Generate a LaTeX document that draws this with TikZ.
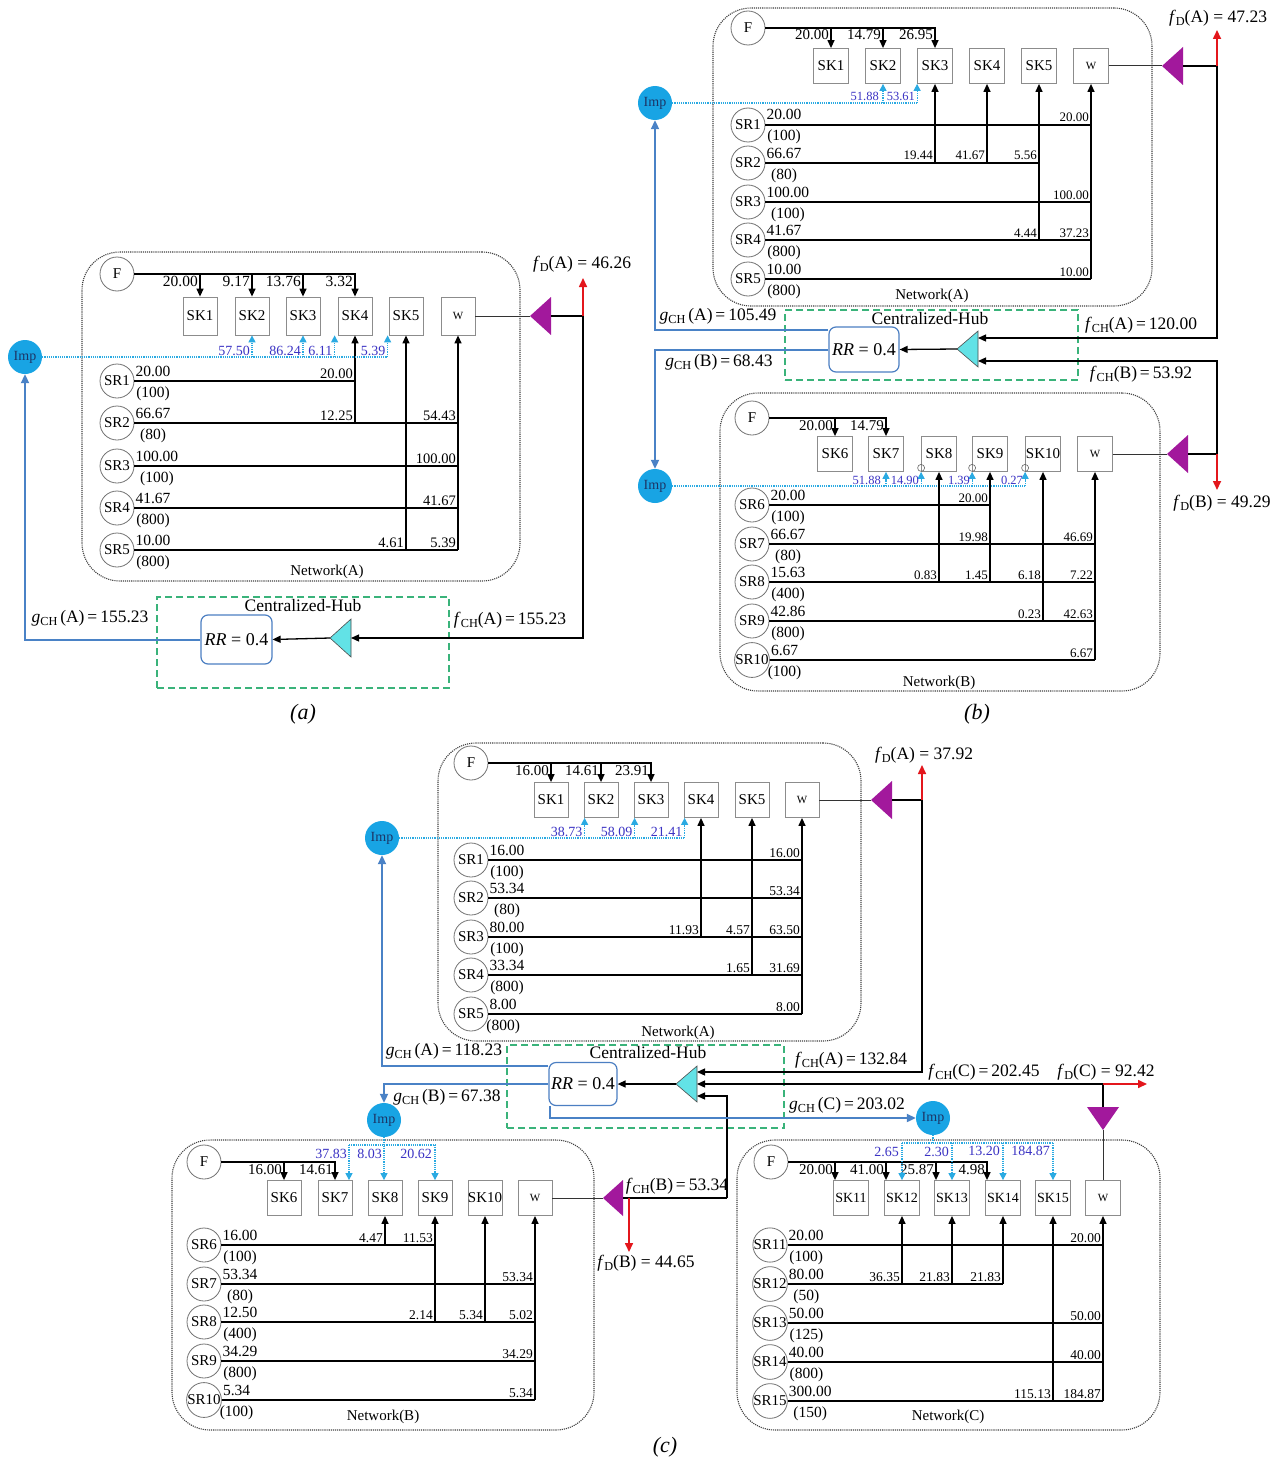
\documentclass[tikz,border=0pt]{standalone}
\usepackage{fontspec}
\usepackage{graphicx}
\setmainfont{Liberation Serif}
\usetikzlibrary{calc,arrows.meta}
\definecolor{impc}{HTML}{18A4E4}
\definecolor{impt}{HTML}{1C3566}
\definecolor{cyanc}{HTML}{2AAAE2}
\definecolor{labc}{HTML}{3B33C4}
\definecolor{bluec}{HTML}{4A82C6}
\definecolor{redc}{HTML}{E3161C}
\definecolor{greenc}{HTML}{3AB37A}
\definecolor{purpc}{HTML}{A2189C}
\definecolor{tric}{HTML}{62E2E6}
\definecolor{rrc}{HTML}{4C7FC2}
\newcommand\fs[1]{\fontsize{#1}{#1}\selectfont}
\newcommand\Sb[1]{\raisebox{-0.35ex}{\scalebox{0.7}{#1}}}
\newcommand\eqfD[2]{\textit{f}\Sb{D}(#1) = #2}
\newcommand\eqfCH[2]{\textit{f}\Sb{CH}(#1)\,=\,#2}
\newcommand\eqgCH[2]{\textit{g}\Sb{CH}\,(#1)\,=\,#2}
\newcommand\SRnode[6]{%
  \node[srn] (#1) at (#2,#3) {#4};
  \node[lval] (#1v) at ($(#1.east)+(1,-5)$) {#5};
  \node[capv] at ($(#1v.base)+(0,21)$) {#6};}
\newcommand\RLb[3]{\node[rlab] at (#1.east -| #2) {#3};}
\newcommand\FLb[2]{\node[flab] at #1 {#2};}
\newcommand\CLb[2]{\node[clab] at #1 {#2};}
\tikzset{
 netbox/.style={draw=black!75, densely dotted, line width=1.1pt, rounded corners=38pt, inner sep=0pt},
 sk/.style={draw=black!45, line width=0.8pt, minimum width=35pt, minimum height=35pt, inner sep=0pt, font=\fs{15}},
 srn/.style={circle, draw=black!55, line width=0.8pt, minimum size=34pt, inner sep=0pt, font=\fs{15}},
 imp/.style={circle, fill=impc, minimum size=34pt, inner sep=0pt, text=impt, font=\fs{14}},
 flow/.style={draw=black, line width=1.3pt},
 thinfl/.style={draw=black!80, line width=1pt},
 farr/.style={flow, -{Triangle[length=8pt,width=7pt]}},
 cyd/.style={draw=cyanc, densely dotted, line width=1.2pt},
 cya/.style={cyd, -{Triangle[length=7pt,width=7pt]}},
 blarr/.style={draw=bluec, line width=2pt, -{Triangle[length=9pt,width=8pt]}},
 redarr/.style={draw=redc, line width=1.6pt, -{Triangle[length=9pt,width=8pt]}},
 hubbox/.style={draw=greenc, dash pattern=on 7pt off 4pt, line width=1.3pt, inner sep=0pt},
 rr/.style={draw=rrc, line width=1.2pt, rounded corners=7pt, inner sep=0pt, font=\fs{18}},
 lval/.style={anchor=base west, inner sep=0pt, font=\fs{15.5}},
 capv/.style={anchor=base, inner sep=0pt, font=\fs{15.5}},
 rlab/.style={anchor=base east, inner sep=0pt, xshift=-2pt, yshift=3pt, font=\fs{14.5}},
 flab/.style={anchor=base east, inner sep=0pt, xshift=-2pt, yshift=-12pt, font=\fs{15.5}},
 clab/.style={anchor=base east, inner sep=0pt, xshift=-2pt, yshift=2pt, text=labc, font=\fs{14}},
 clabb/.style={anchor=base east, inner sep=0pt, text=labc, font=\fs{14}},
 ntxt/.style={inner sep=0pt, font=\fs{15}},
 htxt/.style={inner sep=0pt, font=\fs{17.5}},
 eqtxt/.style={inner sep=0pt, font=\fs{17.5}},
 ptxt/.style={inner sep=0pt, font=\fs{22}\itshape},
 smallc/.style={draw=black!60, line width=0.6pt},
 trif/.style={fill=tric, draw=black!70, line width=0.6pt},
 purf/.style={fill=purpc},
}
\begin{document}
\begin{tikzpicture}[x=1pt,y=-1pt]
\useasboundingbox (0,0) rectangle (1276,1461);
\fill[white] (0,0) rectangle (1276,1461);

% ================= PANEL (a) =================
\begin{scope}
\node[netbox, minimum width=438pt, minimum height=329pt] (a-net) at (301,416.5) {};
\node[ntxt] at (327,572) {Network(A)};
\node[srn] (a-F) at (117,274) {F};
\foreach \n/\x in {1/200,2/252,3/303,4/355,5/406}{\node[sk, minimum width=34pt, minimum height=38pt] (a-SK\n) at (\x,316) {SK\n};}
\node[sk, minimum width=34pt, minimum height=38pt, font=\fs{11}] (a-W) at (458,316) {W};
\node[imp] (a-Imp) at (25,357) {Imp};
\draw[farr] (a-F.east) -- (a-F.east -| a-SK4) -- (a-SK4.north);
\foreach \n in {1,2,3}{\draw[farr] (a-F.east -| a-SK\n) -- (a-SK\n.north);}
\FLb{(a-F.east -| a-SK1)}{20.00}
\FLb{(a-F.east -| a-SK2)}{9.17}
\FLb{(a-F.east -| a-SK3)}{13.76}
\FLb{(a-F.east -| a-SK4)}{3.32}
\SRnode{a-SR1}{117}{381}{SR1}{20.00}{(100)}
\SRnode{a-SR2}{117}{423}{SR2}{66.67}{(80)}
\SRnode{a-SR3}{117}{466}{SR3}{100.00}{(100)}
\SRnode{a-SR4}{117}{508}{SR4}{41.67}{(800)}
\SRnode{a-SR5}{117}{550}{SR5}{10.00}{(800)}
\draw[flow] (a-SR1.east) -- (a-SR1.east -| a-SK4);
\foreach \n in {2,...,5}{\draw[flow] (a-SR\n.east) -- (a-SR\n.east -| a-W);}
\draw[farr] (a-SR2.east -| a-SK4) -- (a-SK4.south);
\draw[farr] (a-SR5.east -| a-SK5) -- (a-SK5.south);
\draw[farr] (a-SR5.east -| a-W) -- (a-W.south);
\RLb{a-SR1}{a-SK4}{20.00}
\RLb{a-SR2}{a-SK4}{12.25}
\RLb{a-SR2}{a-W}{54.43}
\RLb{a-SR3}{a-W}{100.00}
\RLb{a-SR4}{a-W}{41.67}
\RLb{a-SR5}{a-SK5}{4.61}
\RLb{a-SR5}{a-W}{5.39}
\coordinate (a-i2) at (a-SK2.south);
\coordinate (a-i3) at (a-SK3.south);
\coordinate (a-i4) at ($(a-SK4.south west)+(-3,0)$);
\coordinate (a-i5) at ($(a-SK5.south west)+(-1,0)$);
\draw[cyd] (a-Imp.east) -- (a-Imp.east -| a-i5);
\foreach \k in {2,...,5}{\draw[cya] (a-Imp.east -| a-i\k) -- (a-i\k);}
\CLb{(a-Imp.east -| a-i2)}{57.50}
\CLb{(a-Imp.east -| a-i3)}{86.24}
\CLb{(a-Imp.east -| a-i4)}{6.11}
\CLb{(a-Imp.east -| a-i5)}{5.39}
% splitter
\fill[purf] (530,316) -- (551,297) -- (551,335) -- cycle;
\coordinate (a-pt) at (530,316);
\coordinate (a-pb) at (551,316);
\coordinate (a-j) at (583,316);
\coordinate (a-fD) at (583,278);
\draw[thinfl] (a-W.east) -- (a-pt);
\draw[flow] (a-j) -- (a-pb);
\draw[redarr] (a-j) -- (a-fD);
\node[eqtxt] at (582,264) {\eqfD{A}{46.26}};
% hub
\node[hubbox, minimum width=292pt, minimum height=91pt] (a-hub) at (303,642.5) {};
\node[htxt] at (303,606) {Centralized-Hub};
\node[rr, minimum width=71pt, minimum height=49pt] (a-RR) at (236.5,639.5) {\textit{RR} = 0.4};
\filldraw[trif] (330,638) -- (351,619) -- (351,657) -- cycle;
\coordinate (a-tt) at (330,638);
\coordinate (a-tb) at (351,638);
\draw[farr] (a-tt) -- (a-RR.east);
\draw[farr] (a-j) -- (a-j |- a-tb) -- (a-tb);
\draw[blarr] (a-RR.west) -- (a-RR.west -| a-Imp) -- (a-Imp.south);
\node[eqtxt] at (510,620) {\eqfCH{A}{155.23}};
\node[eqtxt] at (90,618) {\eqgCH{A}{155.23}};
\node[ptxt] at (303,714) {(a)};
\end{scope}

% ================= PANEL (b) =================
\begin{scope}[rlab/.append style={font=\fs{13}}, flab/.append style={font=\fs{15}}, clab/.append style={font=\fs{12.5}}]
\node[netbox, minimum width=439pt, minimum height=298pt] (b-netA) at (932.5,157) {};
\node[ntxt] at (932,296) {Network(A)};
\node[srn] (b-FA) at (748,28) {F};
\foreach \n/\x in {1/831,2/883,3/935,4/987,5/1039}{\node[sk] (b-SK\n) at (\x,66) {SK\n};}
\node[sk, font=\fs{11}] (b-WA) at (1091,66) {W};
\node[imp] (b-ImpA) at (655,103) {Imp};
\draw[farr] (b-FA.east) -- (b-FA.east -| b-SK3) -- (b-SK3.north);
\foreach \n in {1,2}{\draw[farr] (b-FA.east -| b-SK\n) -- (b-SK\n.north);}
\FLb{(b-FA.east -| b-SK1)}{20.00}
\FLb{(b-FA.east -| b-SK2)}{14.79}
\FLb{(b-FA.east -| b-SK3)}{26.95}
\coordinate (b-i2) at (b-SK2.south);
\coordinate (b-i3) at (b-SK3.south west);
\draw[cyd] (b-ImpA.east) -- (b-ImpA.east -| b-i3);
\foreach \k in {2,3}{\draw[cya] (b-ImpA.east -| b-i\k) -- (b-i\k);}
\node[clab, xshift=-2pt] at (b-ImpA.east -| b-i2) {51.88};
\CLb{(b-ImpA.east -| b-i3)}{53.61}
\SRnode{b-SR1}{748}{125}{SR1}{20.00}{(100)}
\SRnode{b-SR2}{748}{163}{SR2}{66.67}{(80)}
\SRnode{b-SR3}{748}{202}{SR3}{100.00}{(100)}
\SRnode{b-SR4}{748}{240}{SR4}{41.67}{(800)}
\SRnode{b-SR5}{748}{279}{SR5}{10.00}{(800)}
\foreach \n in {1,3,4,5}{\draw[flow] (b-SR\n.east) -- (b-SR\n.east -| b-WA);}
\draw[flow] (b-SR2.east) -- (b-SR2.east -| b-SK5);
\draw[farr] (b-SR2.east -| b-SK3) -- (b-SK3.south);
\draw[farr] (b-SR2.east -| b-SK4) -- (b-SK4.south);
\draw[farr] (b-SR4.east -| b-SK5) -- (b-SK5.south);
\draw[farr] (b-SR5.east -| b-WA) -- (b-WA.south);
\RLb{b-SR1}{b-WA}{20.00}
\RLb{b-SR2}{b-SK3}{19.44}
\RLb{b-SR2}{b-SK4}{41.67}
\RLb{b-SR2}{b-SK5}{5.56}
\RLb{b-SR3}{b-WA}{100.00}
\RLb{b-SR4}{b-SK5}{4.44}
\RLb{b-SR4}{b-WA}{37.23}
\RLb{b-SR5}{b-WA}{10.00}
\fill[purf] (1162,66) -- (1183,47) -- (1183,85) -- cycle;
\coordinate (b-ptA) at (1162,66);
\coordinate (b-pbA) at (1183,66);
\coordinate (b-jA) at (1217,66);
\coordinate (b-fDA) at (1217,30);
\draw[thinfl] (b-WA.east) -- (b-ptA);
\draw[flow] (b-jA) -- (b-pbA);
\draw[redarr] (b-jA) -- (b-fDA);
\node[eqtxt] at (1218,18) {\eqfD{A}{47.23}};

\node[netbox, minimum width=440pt, minimum height=298pt] (b-netB) at (940,542) {};
\node[ntxt] at (939,683) {Network(B)};
\node[srn] (b-FB) at (752,418) {F};
\foreach \n/\x in {6/835,7/886,8/939,9/990,10/1043}{\node[sk] (b-SK\n) at (\x,454) {SK\n};}
\node[sk, font=\fs{11}] (b-WB) at (1095,454) {W};
\node[imp] (b-ImpB) at (655,486) {Imp};
\draw[farr] (b-FB.east) -- (b-FB.east -| b-SK7) -- (b-SK7.north);
\draw[farr] (b-FB.east -| b-SK6) -- (b-SK6.north);
\FLb{(b-FB.east -| b-SK6)}{20.00}
\FLb{(b-FB.east -| b-SK7)}{14.79}
\coordinate (b-i7) at (b-SK7.south);
\foreach \k in {8,9,10}{\coordinate (b-i\k) at (b-SK\k.south west);}
\draw[cyd] (b-ImpB.east) -- (b-ImpB.east -| b-i10);
\foreach \k in {7,...,10}{\draw[cya] (b-ImpB.east -| b-i\k) -- (b-i\k);}
\foreach \k in {8,9,10}{\draw[smallc] ($(b-i\k)+(0,-4)$) circle (3.5pt);}
\node[clab, xshift=-3pt] at (b-ImpB.east -| b-i7) {51.88};
\CLb{(b-ImpB.east -| b-i8)}{14.90}
\CLb{(b-ImpB.east -| b-i9)}{1.39}
\CLb{(b-ImpB.east -| b-i10)}{0.27}
\SRnode{b-SR6}{752}{505}{SR6}{20.00}{(100)}
\SRnode{b-SR7}{752}{544}{SR7}{66.67}{(80)}
\SRnode{b-SR8}{752}{582}{SR8}{15.63}{(400)}
\SRnode{b-SR9}{752}{621}{SR9}{42.86}{(800)}
\SRnode{b-SR10}{752}{660}{SR10}{6.67}{(100)}
\draw[flow] (b-SR6.east) -- (b-SR6.east -| b-SK9);
\foreach \n in {7,...,10}{\draw[flow] (b-SR\n.east) -- (b-SR\n.east -| b-WB);}
\draw[farr] (b-SR8.east -| b-SK8) -- (b-SK8.south);
\draw[farr] (b-SR8.east -| b-SK9) -- (b-SK9.south);
\draw[farr] (b-SR9.east -| b-SK10) -- (b-SK10.south);
\draw[farr] (b-SR10.east -| b-WB) -- (b-WB.south);
\RLb{b-SR6}{b-SK9}{20.00}
\RLb{b-SR7}{b-SK9}{19.98}
\RLb{b-SR7}{b-WB}{46.69}
\RLb{b-SR8}{b-SK8}{0.83}
\RLb{b-SR8}{b-SK9}{1.45}
\RLb{b-SR8}{b-SK10}{6.18}
\RLb{b-SR8}{b-WB}{7.22}
\RLb{b-SR9}{b-SK10}{0.23}
\RLb{b-SR9}{b-WB}{42.63}
\RLb{b-SR10}{b-WB}{6.67}
\fill[purf] (1167,454) -- (1188,435) -- (1188,473) -- cycle;
\coordinate (b-ptB) at (1167,454);
\coordinate (b-pbB) at (1188,454);
\coordinate (b-jB) at (1217,454);
\coordinate (b-fDB) at (1217,490);
\draw[thinfl] (b-WB.east) -- (b-ptB);
\draw[flow] (b-jB) -- (b-pbB);
\draw[redarr] (b-jB) -- (b-fDB);
\node[eqtxt] at (1222,503) {\eqfD{B}{49.29}};

\node[hubbox, minimum width=293pt, minimum height=70pt] (b-hub) at (931.5,345) {};
\node[htxt] at (930,319) {Centralized-Hub};
\node[rr, minimum width=70pt, minimum height=45pt] (b-RR) at (864,349.5) {\textit{RR} = 0.4};
\filldraw[trif] (957,349) -- (978,331) -- (978,367) -- cycle;
\coordinate (b-tt) at (957,349);
\coordinate (b-tA) at (978,338);
\coordinate (b-tB) at (978,361);
\draw[farr] (b-tt) -- (b-RR.east);
\draw[farr] (b-jA) -- (b-jA |- b-tA) -- (b-tA);
\draw[farr] (b-jB) -- (b-jB |- b-tB) -- (b-tB);
\coordinate (b-ra) at ($(b-RR.north west)+(0,4)$);
\draw[blarr] (b-ra) -- (b-ra -| b-ImpA) -- (b-ImpA.south);
\draw[blarr] (b-RR.west) -- (b-RR.west -| b-ImpB) -- (b-ImpB.north);
\node[eqtxt] at (1141,325) {\eqfCH{A}{120.00}};
\node[eqtxt] at (1141,374) {\eqfCH{B}{53.92}};
\node[eqtxt] at (718,316) {\eqgCH{A}{105.49}};
\node[eqtxt] at (719,362) {\eqgCH{B}{68.43}};
\node[ptxt] at (977,714) {(b)};
\end{scope}

% ================= PANEL (c) =================
\begin{scope}[rlab/.append style={font=\fs{13.5}}, flab/.append style={font=\fs{15}}]
% Network A
\node[netbox, minimum width=423pt, minimum height=298pt] (c-netA) at (649.5,892) {};
\node[ntxt] at (678,1033) {Network(A)};
\node[srn] (c-FA) at (471,763) {F};
\foreach \n/\x in {1/551,2/601,3/651,4/701,5/752}{\node[sk, minimum width=34pt] (c-SK\n) at (\x,800) {SK\n};}
\node[sk, minimum width=34pt, font=\fs{11}] (c-WA) at (802,800) {W};
\node[imp] (c-ImpA) at (382,838) {Imp};
\draw[farr] (c-FA.east) -- (c-FA.east -| c-SK3) -- (c-SK3.north);
\foreach \n in {1,2}{\draw[farr] (c-FA.east -| c-SK\n) -- (c-SK\n.north);}
\FLb{(c-FA.east -| c-SK1)}{16.00}
\FLb{(c-FA.east -| c-SK2)}{14.61}
\FLb{(c-FA.east -| c-SK3)}{23.91}
\foreach \k in {2,3,4}{\coordinate (c-i\k) at ($(c-SK\k.south west)+(1,0)$);}
\draw[cyd] (c-ImpA.east) -- (c-ImpA.east -| c-i4);
\foreach \k in {2,3,4}{\draw[cya] (c-ImpA.east -| c-i\k) -- (c-i\k);}
\CLb{(c-ImpA.east -| c-i2)}{38.73}
\CLb{(c-ImpA.east -| c-i3)}{58.09}
\CLb{(c-ImpA.east -| c-i4)}{21.41}
\SRnode{c-SR1}{471}{860}{SR1}{16.00}{(100)}
\SRnode{c-SR2}{471}{898}{SR2}{53.34}{(80)}
\SRnode{c-SR3}{471}{937}{SR3}{80.00}{(100)}
\SRnode{c-SR4}{471}{975}{SR4}{33.34}{(800)}
\SRnode{c-SR5}{471}{1014}{SR5}{8.00}{(800)}
\foreach \n in {1,...,5}{\draw[flow] (c-SR\n.east) -- (c-SR\n.east -| c-WA);}
\draw[farr] (c-SR3.east -| c-SK4) -- (c-SK4.south);
\draw[farr] (c-SR4.east -| c-SK5) -- (c-SK5.south);
\draw[farr] (c-SR5.east -| c-WA) -- (c-WA.south);
\RLb{c-SR1}{c-WA}{16.00}
\RLb{c-SR2}{c-WA}{53.34}
\RLb{c-SR3}{c-SK4}{11.93}
\RLb{c-SR3}{c-SK5}{4.57}
\RLb{c-SR3}{c-WA}{63.50}
\RLb{c-SR4}{c-SK5}{1.65}
\RLb{c-SR4}{c-WA}{31.69}
\RLb{c-SR5}{c-WA}{8.00}
\fill[purf] (871,800) -- (892,781) -- (892,819) -- cycle;
\coordinate (c-ptA) at (871,800);
\coordinate (c-pbA) at (892,800);
\coordinate (c-jA) at (922,800);
\coordinate (c-fDA) at (922,765);
\draw[thinfl] (c-WA.east) -- (c-ptA);
\draw[flow] (c-jA) -- (c-pbA);
\draw[redarr] (c-jA) -- (c-fDA);
\node[eqtxt] at (924,755) {\eqfD{A}{37.92}};

% Network B
\node[netbox, minimum width=422pt, minimum height=290pt] (c-netB) at (383,1285) {};
\node[ntxt] at (383,1417) {Network(B)};
\node[srn] (c-FB) at (204,1162) {F};
\foreach \n/\x in {6/284,7/335,8/385,9/435,10/485}{\node[sk, minimum width=34pt] (c-SK\n) at (\x,1198) {SK\n};}
\node[sk, minimum width=34pt, font=\fs{11}] (c-WB) at (535,1198) {W};
\node[imp] (c-ImpB) at (384,1120) {Imp};
\draw[farr] (c-FB.east) -- (c-FB.east -| c-SK7) -- (c-SK7.north);
\draw[farr] (c-FB.east -| c-SK6) -- (c-SK6.north);
\FLb{(c-FB.east -| c-SK6)}{16.00}
\FLb{(c-FB.east -| c-SK7)}{14.61}
\coordinate (c-bhy) at (0,1145);
\coordinate (c-h7) at ($(c-SK7.north)+(14,0)$);
\draw[cyd] (c-h7 |- c-bhy) -- (c-SK9.north |- c-bhy);
\draw[cya] (c-ImpB.south) -- (c-ImpB.south |- c-SK8.north);
\draw[cya] (c-h7 |- c-bhy) -- (c-h7);
\draw[cya] (c-SK9.north |- c-bhy) -- (c-SK9.north);
\node[clabb] at ($(c-h7 |- c-bhy)+(-2,13)$) {37.83};
\node[clabb] at ($(c-SK8.north |- c-bhy)+(-3,13)$) {8.03};
\node[clabb] at ($(c-SK9.north |- c-bhy)+(-3,13)$) {20.62};
\SRnode{c-SR6}{204}{1245}{SR6}{16.00}{(100)}
\SRnode{c-SR7}{204}{1284}{SR7}{53.34}{(80)}
\SRnode{c-SR8}{204}{1322}{SR8}{12.50}{(400)}
\SRnode{c-SR9}{204}{1361}{SR9}{34.29}{(800)}
\SRnode{c-SR10}{204}{1400}{SR10}{5.34}{(100)}
\draw[flow] (c-SR6.east) -- (c-SR6.east -| c-SK9);
\foreach \n in {7,...,10}{\draw[flow] (c-SR\n.east) -- (c-SR\n.east -| c-WB);}
\draw[farr] (c-SR6.east -| c-SK8) -- (c-SK8.south);
\draw[farr] (c-SR8.east -| c-SK9) -- (c-SK9.south);
\draw[farr] (c-SR8.east -| c-SK10) -- (c-SK10.south);
\draw[farr] (c-SR10.east -| c-WB) -- (c-WB.south);
\RLb{c-SR6}{c-SK8}{4.47}
\RLb{c-SR6}{c-SK9}{11.53}
\RLb{c-SR7}{c-WB}{53.34}
\RLb{c-SR8}{c-SK9}{2.14}
\RLb{c-SR8}{c-SK10}{5.34}
\RLb{c-SR8}{c-WB}{5.02}
\RLb{c-SR9}{c-WB}{34.29}
\RLb{c-SR10}{c-WB}{5.34}
\fill[purf] (603,1198) -- (623,1180) -- (623,1216) -- cycle;
\coordinate (c-ptB) at (603,1198);
\coordinate (c-pbB) at (623,1198);
\coordinate (c-jB) at (727,1198);
\coordinate (c-rB) at (629,1198);
\coordinate (c-fDB) at (629,1252);
\draw[thinfl] (c-WB.east) -- (c-ptB);
\draw[flow] (c-jB) -- (c-pbB);
\draw[redarr] (c-rB) -- (c-fDB);
\node[eqtxt] at (677,1186) {\eqfCH{B}{53.34}};
\node[eqtxt] at (646,1263) {\eqfD{B}{44.65}};

% Network C
\node[netbox, minimum width=423pt, minimum height=290pt] (c-netC) at (948.5,1285) {};
\node[ntxt] at (948,1417) {Network(C)};
\node[srn] (c-FC) at (771,1162) {F};
\foreach \n/\x in {11/851,12/902,13/952,14/1003,15/1053}{\node[sk, font=\fs{14}] (c-SK\n) at (\x,1198) {SK\n};}
\node[sk, font=\fs{11}] (c-WC) at (1103,1198) {W};
\node[imp] (c-ImpC) at (933,1118) {Imp};
\foreach \n in {11,...,14}{\coordinate (c-k\n) at ($(c-SK\n.north)+(-16,0)$);}
\draw[farr] (c-FC.east) -- (c-FC.east -| c-k14) -- (c-k14);
\foreach \n in {11,12,13}{\draw[farr] (c-FC.east -| c-k\n) -- (c-k\n);}
\FLb{(c-FC.east -| c-k11)}{20.00}
\FLb{(c-FC.east -| c-k12)}{41.00}
\FLb{(c-FC.east -| c-k13)}{25.87}
\FLb{(c-FC.east -| c-k14)}{4.98}
\coordinate (c-chy) at (0,1143);
\draw[cyd] (c-ImpC.south) -- (c-ImpC.south |- c-chy);
\draw[cyd] (c-SK12.north |- c-chy) -- (c-SK15.north |- c-chy);
\foreach \k in {12,...,15}{\draw[cya] (c-SK\k.north |- c-chy) -- (c-SK\k.north);}
\node[clabb] at ($(c-SK12.north |- c-chy)+(-3,13)$) {2.65};
\node[clabb] at ($(c-SK13.north |- c-chy)+(-3,13)$) {2.30};
\node[clabb] at ($(c-SK14.north |- c-chy)+(-3,12)$) {13.20};
\node[clabb] at ($(c-SK15.north |- c-chy)+(-3,12)$) {184.87};
\SRnode{c-SR11}{770}{1245}{SR11}{20.00}{(100)}
\SRnode{c-SR12}{770}{1284}{SR12}{80.00}{(50)}
\SRnode{c-SR13}{770}{1323}{SR13}{50.00}{(125)}
\SRnode{c-SR14}{770}{1362}{SR14}{40.00}{(800)}
\SRnode{c-SR15}{770}{1401}{SR15}{300.00}{(150)}
\foreach \n in {11,13,14,15}{\draw[flow] (c-SR\n.east) -- (c-SR\n.east -| c-WC);}
\draw[flow] (c-SR12.east) -- (c-SR12.east -| c-SK14);
\foreach \k in {12,13,14}{\draw[farr] (c-SR12.east -| c-SK\k) -- (c-SK\k.south);}
\draw[farr] (c-SR15.east -| c-SK15) -- (c-SK15.south);
\draw[farr] (c-SR15.east -| c-WC) -- (c-WC.south);
\RLb{c-SR11}{c-WC}{20.00}
\RLb{c-SR12}{c-SK12}{36.35}
\RLb{c-SR12}{c-SK13}{21.83}
\RLb{c-SR12}{c-SK14}{21.83}
\RLb{c-SR13}{c-WC}{50.00}
\RLb{c-SR14}{c-WC}{40.00}
\RLb{c-SR15}{c-SK15}{115.13}
\RLb{c-SR15}{c-WC}{184.87}
\fill[purf] (1103,1130) -- (1087,1107) -- (1119,1107) -- cycle;
\coordinate (c-ptC) at (1103,1130);
\coordinate (c-pbC) at (1103,1107);
\coordinate (c-jC) at (1103,1084);
\coordinate (c-fDC) at (1147,1084);
\draw[thinfl] (c-WC.north) -- (c-ptC);
\draw[flow] (c-jC) -- (c-pbC);
\draw[redarr] (c-jC) -- (c-fDC);

% Hub
\node[hubbox, minimum width=277pt, minimum height=83pt] (c-hub) at (645.5,1086.5) {};
\node[htxt] at (648,1053) {Centralized-Hub};
\node[rr, minimum width=68pt, minimum height=43pt] (c-RR) at (583,1084) {\textit{RR} = 0.4};
\filldraw[trif] (676,1084) -- (697,1066) -- (697,1102) -- cycle;
\coordinate (c-tt) at (676,1084);
\coordinate (c-tA) at (697,1072);
\coordinate (c-tC) at (697,1084);
\coordinate (c-tB) at (697,1096);
\draw[farr] (c-tt) -- (c-RR.east);
\draw[farr] (c-jA) -- (c-jA |- c-tA) -- (c-tA);
\draw[farr] (c-jC) -- (c-tC);
\draw[farr] (c-jB) -- (c-jB |- c-tB) -- (c-tB);
\coordinate (c-ra) at ($(c-RR.north west)+(0,4)$);
\draw[blarr] (c-ra) -- (c-ra -| c-ImpA) -- (c-ImpA.south);
\draw[blarr] (c-RR.west) -- (c-RR.west -| c-ImpB) -- (c-ImpB.north);
\coordinate (c-rc) at ($(c-RR.south west)+(2,0)$);
\draw[blarr] (c-rc) -- (c-rc |- c-ImpC) -- (c-ImpC.west);
\node[eqtxt] at (444,1051) {\eqgCH{A}{118.23}};
\node[eqtxt] at (447,1097) {\eqgCH{B}{67.38}};
\node[eqtxt] at (847,1105) {\eqgCH{C}{203.02}};
\node[eqtxt] at (851,1060) {\eqfCH{A}{132.84}};
\node[eqtxt] at (984,1072) {\eqfCH{C}{202.45}};
\node[eqtxt] at (1106,1072) {\eqfD{C}{92.42}};
\node[ptxt] at (665,1447) {(c)};
\end{scope}
\end{tikzpicture}
\end{document}
